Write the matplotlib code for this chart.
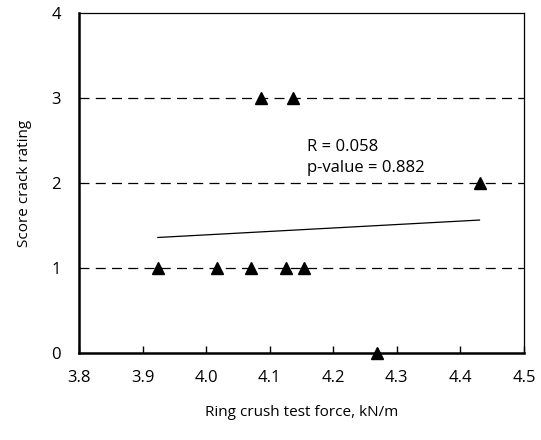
import matplotlib
matplotlib.use('Agg')
from matplotlib import pyplot as plt
import numpy as np

plt.rcParams['font.family'] = ['Open Sans', 'DejaVu Sans']

# ring crush force (kN/m) and crack rating
force = [3.924, 4.017, 4.071, 4.126, 4.154, 4.087, 4.136, 4.268, 4.430]
rating = [1, 1, 1, 1, 1, 3, 3, 0, 2]
x_ticks = [3.8, 3.9, 4.0, 4.1, 4.2, 4.3, 4.4, 4.5]
x_tick_labels = ['3.8', '3.9', '4.0', '4.1', '4.2', '4.3', '4.4', '4.5']
y_ticks = [0, 1, 2, 3, 4]
stats_text = 'R = 0.058\np-value = 0.882'

fig = plt.figure(figsize=(5.41, 4.40), dpi=100)
ax = fig.add_axes([79 / 541, 1 - 353 / 440, 445 / 541, 340 / 440])

for yv in y_ticks[1:4]:
    ax.axhline(yv, color='black', lw=0.9, ls=(0, (8, 5)), zorder=1)

# linear trend
slope, intercept = np.polyfit(force, rating, 1)
xs = np.array([min(force), max(force)])
ax.plot(xs, slope * xs + intercept, color='black', lw=0.9, zorder=2)

ax.plot(force, rating, ls='none', marker='^', color='black', ms=9, clip_on=False, zorder=3)

ax.text(4.158, 2.3, stats_text, fontsize=12, va='center', ha='left', linespacing=1.45)

ax.set_xlim(3.8, 4.5)
ax.set_ylim(0, 4)
ax.set_xticks(x_ticks)
ax.set_xticklabels(x_tick_labels)
ax.set_yticks(y_ticks)
ax.tick_params(axis='x', direction='in', length=5, width=1, pad=12, labelsize=12)
ax.tick_params(axis='y', length=0, pad=13, labelsize=12)

for side in ['left', 'bottom']:
    ax.spines[side].set_linewidth(1.8)
for side in ['top', 'right']:
    ax.spines[side].set_linewidth(0.9)

ax.set_xlabel('Ring crush test force, kN/m', fontsize=11, labelpad=14)
ax.set_ylabel('Score crack rating', fontsize=11, labelpad=14)

fig.savefig('out.png', dpi=100)
